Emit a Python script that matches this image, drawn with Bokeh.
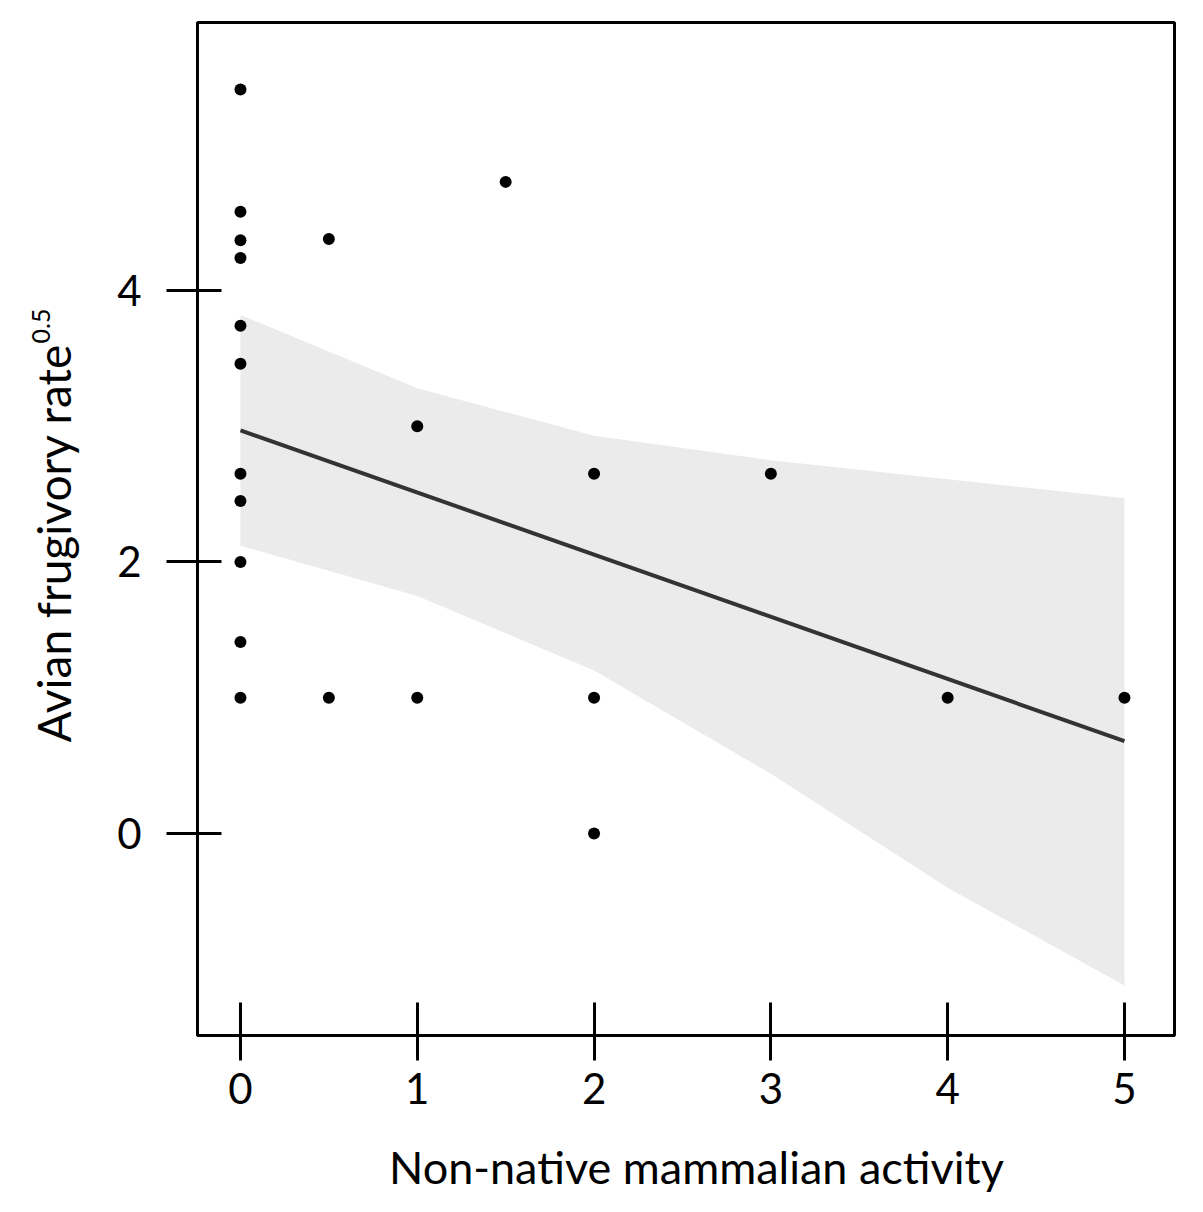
from bokeh.plotting import figure
from bokeh.models import Range1d, FixedTicker, Label
from bokeh.layouts import row, column
from bokeh.embed import file_html
from bokeh.resources import INLINE
import math

# observed data
x_obs = [0, 0, 0, 0, 0, 0, 0, 0, 0, 0, 0, 0.5, 0.5, 1, 1, 1.5, 2, 2, 2, 3, 4, 5]
y_obs = [5.48, 4.58, 4.37, 4.24, 3.74, 3.46, 2.65, 2.45, 2.0, 1.41, 1.0,
         4.38, 1.0, 3.0, 1.0, 4.80, 2.65, 1.0, 0.0, 2.65, 1.0, 1.0]

# fitted line and confidence band
fit_x = [0, 5]
fit_y = [2.97, 0.68]
band_x = [0, 1, 2, 3, 4, 5]
band_upper = [3.82, 3.28, 2.93, 2.75, 2.61, 2.47]
band_lower = [2.12, 1.75, 1.20, 0.44, -0.40, -1.12]

x_ticks = [0, 1, 2, 3, 4, 5]
y_ticks = [0, 2, 4]
x_title = "Non-native mammalian activity"
y_title = "Avian frugivory rate"
y_title_sup = "0.5"

FONT = "Lato"
H = 1130
X0, X1 = -0.243, 5.283
Y0, Y1 = -1.488, 5.974

# main plot
p = figure(width=1095, height=H,
           x_range=Range1d(X0, X1), y_range=Range1d(Y0, Y1),
           min_border_left=97, min_border_right=21, min_border_top=22, min_border_bottom=95,
           output_backend="svg", toolbar_location=None)
p.grid.visible = False
p.background_fill_color = "white"
p.border_fill_color = "white"
p.outline_line_color = "black"
p.outline_line_width = 3

p.varea(x=band_x, y1=band_lower, y2=band_upper, fill_color="#ebebeb")
p.line(fit_x, fit_y, line_color="#333333", line_width=4)
p.scatter(x_obs, y_obs, size=12, fill_color="black", line_color=None)

for ax in (p.xaxis[0], p.yaxis[0]):
    ax.axis_line_color = "black"
    ax.axis_line_width = 3
    ax.major_tick_line_color = "black"
    ax.major_tick_line_width = 3
    ax.minor_tick_line_color = None
    ax.major_label_text_font = FONT
    ax.major_label_text_font_size = "42px"
    ax.major_label_text_color = "black"

p.xaxis.ticker = FixedTicker(ticks=x_ticks)
p.yaxis.ticker = FixedTicker(ticks=y_ticks)
p.xaxis.major_tick_in = 33
p.xaxis.major_tick_out = 25
p.xaxis.major_label_standoff = 12
p.yaxis.major_tick_in = 24
p.yaxis.major_tick_out = 31
p.yaxis.major_label_standoff = 25
p.yaxis.major_label_orientation = "horizontal"

# side panel holding the rotated y-axis title (same vertical scale as the plot)
side = figure(width=100, height=H, x_range=Range1d(0, 100), y_range=Range1d(Y0, Y1),
              x_axis_type=None, y_axis_type=None,
              min_border_left=0, min_border_right=0, min_border_top=22, min_border_bottom=95,
              output_backend="svg", toolbar_location=None)
side.grid.visible = False
side.outline_line_color = None
side.border_fill_color = "white"
side.add_layout(Label(x=53, y=0.67, text=y_title, text_font=FONT,
                      text_font_size="46px", text_align="left", angle=math.pi / 2,
                      text_baseline="alphabetic", text_color="black"))
side.add_layout(Label(x=40, y=3.61, text=y_title_sup, text_font=FONT,
                      text_font_size="25px", text_align="left", angle=math.pi / 2,
                      text_baseline="alphabetic", text_color="black"))

# bottom strip holding the x-axis title (same horizontal scale as the plot)
BH = 82
bottom = figure(width=1195, height=BH, x_range=Range1d(X0, X1), y_range=Range1d(0, BH),
                x_axis_type=None, y_axis_type=None,
                min_border_left=197, min_border_right=21, min_border_top=0, min_border_bottom=0,
                output_backend="svg", toolbar_location=None)
bottom.grid.visible = False
bottom.outline_line_color = None
bottom.border_fill_color = "white"
bottom.add_layout(Label(x=2.579, y=46, text=x_title, text_font=FONT,
                        text_font_size="45px", text_align="center",
                        text_baseline="alphabetic", text_color="black"))

layout = column(row(side, p), bottom)
open("out.html", "w").write(file_html(layout, INLINE))
